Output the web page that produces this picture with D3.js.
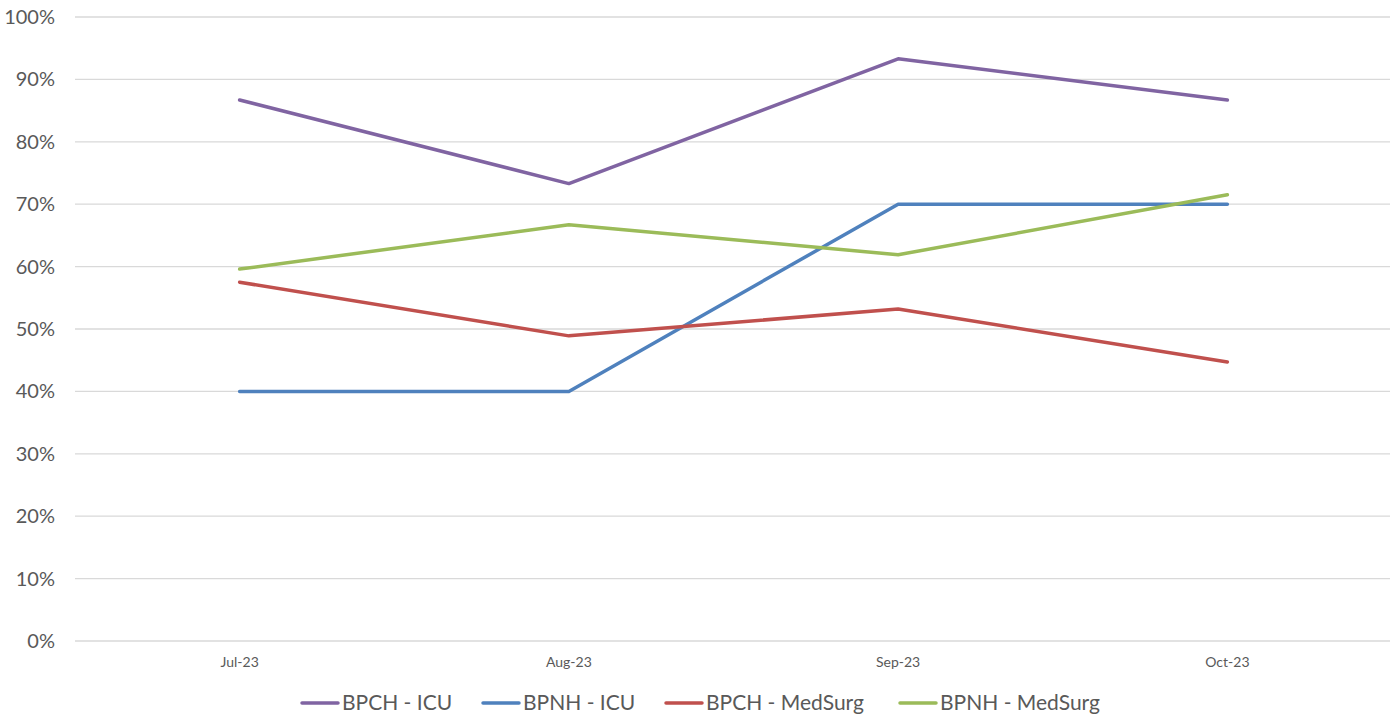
<!DOCTYPE html>
<html><head><meta charset="utf-8">
<script src="https://cdn.jsdelivr.net/npm/d3@7"></script>
<style>body{margin:0;background:#fff;} svg text{font-family:Lato,"Open Sans",sans-serif;}</style>
</head><body>
<svg id="c" width="1390" height="717"></svg>
<script>
const categories = ["Jul-23","Aug-23","Sep-23","Oct-23"];
const seriesNames = ["BPCH - ICU","BPNH - ICU","BPCH - MedSurg","BPNH - MedSurg"];
const seriesColors = ["#8064A2","#4F81BD","#C0504D","#9BBB59"];
const bpchICU = [0.867,0.733,0.933,0.867];
const bpnhICU = [0.40,0.40,0.70,0.70];
const bpchMedSurg = [0.575,0.489,0.532,0.447];
const bpnhMedSurg = [0.596,0.667,0.619,0.715];
const yTicks = [0,0.1,0.2,0.3,0.4,0.5,0.6,0.7,0.8,0.9,1.0];

const series = [bpchICU,bpnhICU,bpchMedSurg,bpnhMedSurg].map((v,i)=>({name:seriesNames[i],color:seriesColors[i],values:v}));
const svg = d3.select("#c");
const x = d3.scaleBand().domain(categories).range([75,1392]);
const y = d3.scaleLinear().domain([0,1]).range([641,17]);

svg.append("g").selectAll("line").data(yTicks).join("line")
  .attr("x1",75).attr("x2",1390).attr("y1",d=>y(d)).attr("y2",d=>y(d))
  .attr("stroke","#d9d9d9").attr("stroke-width",1.3);

svg.append("g").selectAll("text").data(yTicks).join("text")
  .attr("x",55).attr("y",d=>y(d)).attr("dy","0.35em").attr("text-anchor","end")
  .attr("font-size",20).attr("fill","#595959").text(d3.format(".0%"));

svg.append("g").selectAll("text").data(categories).join("text")
  .attr("x",d=>x(d)+x.bandwidth()/2).attr("y",667).attr("text-anchor","middle")
  .attr("font-size",14).attr("fill","#595959").text(d=>d);

const line = d3.line().x((d,i)=>x(categories[i])+x.bandwidth()/2).y(d=>y(d));
svg.append("g").selectAll("path").data(series).join("path")
  .attr("d",d=>line(d.values)).attr("fill","none").attr("stroke",d=>d.color)
  .attr("stroke-width",3.5).attr("stroke-linecap","round").attr("stroke-linejoin","round");

const legX = [302,483,666,900];
const lg = svg.append("g").selectAll("g").data(series).join("g")
  .attr("transform",(d,i)=>`translate(${legX[i]},703)`);
lg.append("line").attr("x1",0).attr("x2",36).attr("stroke",d=>d.color).attr("stroke-width",3.5).attr("stroke-linecap","round");
lg.append("text").attr("x",40).attr("dy","0.35em").attr("font-size",21).attr("fill","#595959").text(d=>d.name);
</script>
</body></html>
